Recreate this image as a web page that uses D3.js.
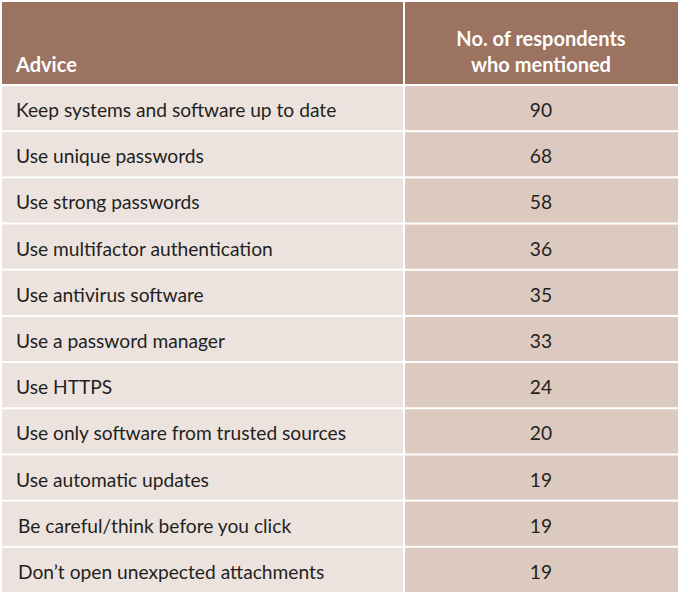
<!DOCTYPE html>
<html><head><meta charset="utf-8">
<script src="https://cdn.jsdelivr.net/npm/d3@7"></script>
<style>html,body{margin:0;padding:0;background:#fff;}</style>
</head><body>
<svg id="c" width="680" height="595"></svg>
<script>
const advice = ["Keep systems and software up to date","Use unique passwords","Use strong passwords","Use multifactor authentication","Use antivirus software","Use a password manager","Use HTTPS","Use only software from trusted sources","Use automatic updates","Be careful/think before you click","Don\u2019t open unexpected attachments"];
const counts = [90,68,58,36,35,33,24,20,19,19,19];
const headers = ["Advice", ["No. of respondents","who mentioned"]];

const svg = d3.select("#c");
const font = "Lato, 'Open Sans', sans-serif";
const y = d3.scaleBand().domain(advice).range([85, 593]);

// header
svg.append("rect").attr("x",2).attr("y",2).attr("width",401).attr("height",82).attr("fill","#9c7260");
svg.append("rect").attr("x",405).attr("y",2).attr("width",273).attr("height",82).attr("fill","#9c7260");
svg.append("text").attr("x",16).attr("y",72).text(headers[0])
  .attr("font-family",font).attr("font-weight","bold").attr("font-size",20).attr("fill","#fff");
svg.append("text").attr("x",541).attr("y",46).attr("text-anchor","middle")
  .attr("font-family",font).attr("font-weight","bold").attr("font-size",20).attr("fill","#fff")
  .selectAll("tspan").data(headers[1]).join("tspan")
  .attr("x",541).attr("dy",(d,i)=>i?26:0).text(d=>d);

const rows = svg.selectAll("g.row").data(advice.map((a,i)=>({a, n:counts[i]}))).join("g").attr("class","row");
rows.append("rect").attr("x",2).attr("y",d=>y(d.a)+1).attr("width",401).attr("height",y.bandwidth()-2).attr("fill","#ede3de");
rows.append("rect").attr("x",405).attr("y",d=>y(d.a)+1).attr("width",273).attr("height",y.bandwidth()-2).attr("fill","#dccac0");
rows.append("text").attr("x",(d,i)=>i>=9?18:16).attr("y",d=>y(d.a)+y.bandwidth()/2+9).text(d=>d.a)
  .attr("font-family",font).attr("font-size",19.2).attr("fill","#231f20");
rows.append("text").attr("x",541).attr("y",d=>y(d.a)+y.bandwidth()/2+9).attr("text-anchor","middle").text(d=>d.n)
  .attr("font-family",font).attr("font-size",19.2).attr("fill","#231f20");
</script>
</body></html>
